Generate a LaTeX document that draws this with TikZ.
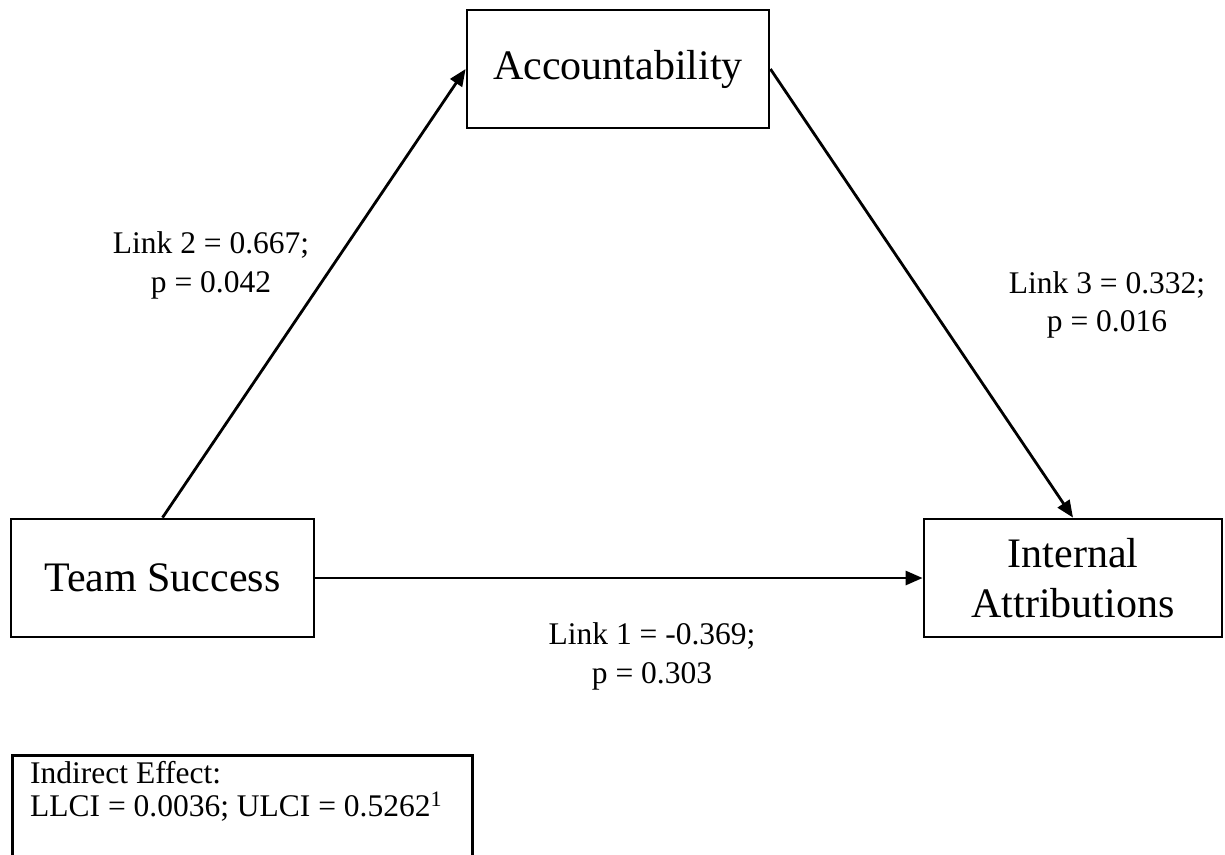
\documentclass[tikz,border=0pt]{standalone}
\usepackage{fontspec}
\setmainfont{Liberation Serif}
\usetikzlibrary{arrows.meta}
\tikzset{
  box/.style={draw, line width=2.8pt, minimum width=302pt, minimum height=118pt, inner sep=0pt, align=center, font=\fontsize{42}{50}\selectfont},
  conn/.style={line width=2.8pt, -{Triangle[length=17pt,width=14pt]}},
  lbl/.style={align=center, inner sep=0pt, anchor=base, font=\fontsize{31.5}{38.5}\selectfont}
}
\begin{document}
\begin{tikzpicture}[x=1pt,y=-1pt]
\useasboundingbox (0,0) rectangle (1225,854);
\node[box] (acc) at (618,69) {Accountability};
\node[box, minimum width=303pt] (ts) at (162.5,578) {Team Success};
\node[box, minimum width=298pt] (ia) at (1073,578) {Internal\\Attributions};
\draw[conn] (ts.north) -- (acc.west);
\draw[conn] (acc.east) -- (ia.north);
\draw[conn] (ts.east) -- (ia.west);
\node[lbl] (l2) at (211,292) {Link 2 = 0.667;\\p = 0.042};
\node[lbl] (l3) at (1107,331.5) {Link 3 = 0.332;\\p = 0.016};
\node[lbl] (l1) at (652,683) {Link 1 = -0.369;\\p = 0.303};
\node[draw, line width=2.8pt, minimum width=460pt, minimum height=140pt, inner sep=0pt, anchor=north west] (indbox) at (11,754) {};
\node[lbl, align=left, anchor=base west, font=\fontsize{31.5}{33}\selectfont] (indtext) at (30,816) {Indirect Effect:\\LLCI = 0.0036; ULCI = 0.5262\textsuperscript{1}};
\end{tikzpicture}
\end{document}
